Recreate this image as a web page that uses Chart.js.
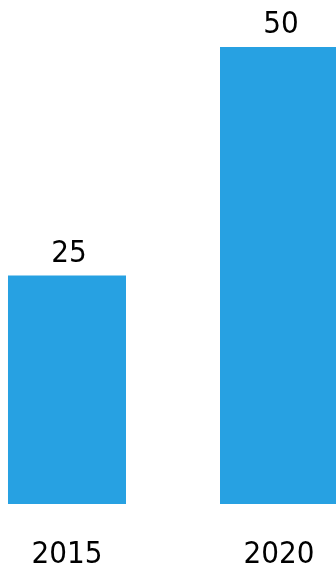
<!DOCTYPE html>
<html>
<head>
<meta charset="utf-8">
<script src="https://cdn.jsdelivr.net/npm/chart.js@4/dist/chart.umd.min.js"></script>
<style>
html,body{margin:0;padding:0;background:#fff;}
#wrap{width:336px;height:569px;position:relative;}
</style>
</head>
<body>
<div id="wrap"><canvas id="c" width="336" height="569"></canvas></div>
<script>
const categories = ["2015", "2020"];
const values = [25, 50];
const tickLabels = ["2015", "2020"];

const FONT = '"DejaVu Sans Condensed", "DejaVu Sans", sans-serif';

const valueLabels = {
  id: 'valueLabels',
  afterDatasetsDraw(chart) {
    const ctx = chart.ctx;
    const meta = chart.getDatasetMeta(0);
    ctx.save();
    ctx.font = '31px ' + FONT;
    ctx.fillStyle = '#000';
    ctx.textAlign = 'center';
    ctx.textBaseline = 'alphabetic';
    meta.data.forEach((bar, i) => {
      ctx.fillText(String(values[i]), bar.x + 2, bar.y - 14);
    });
    ctx.restore();
  }
};

new Chart(document.getElementById('c'), {
  type: 'bar',
  data: {
    datasets: [{
      data: categories.map((c, i) => ({ x: Number(c), y: values[i] })),
      backgroundColor: '#27A1E2',
      borderWidth: 0,
      categoryPercentage: 1,
      barPercentage: 0.5566
    }]
  },
  options: {
    responsive: false,
    animation: false,
    devicePixelRatio: 1,
    layout: { padding: { left: 0, right: 0, top: 47, bottom: 0 } },
    plugins: { legend: { display: false }, tooltip: { enabled: false } },
    scales: {
      x: {
        type: 'linear',
        offset: false,
        min: 2013.42,
        max: 2021.344,
        afterBuildTicks(scale) {
          scale.ticks = tickLabels.map(t => ({ value: Number(t) }));
        },
        afterFit(scale) {
          scale.height = 65;
          scale.paddingLeft = 0;
          scale.paddingRight = 0;
        },
        grid: { display: false, drawTicks: false, offset: false },
        border: { display: false },
        ticks: {
          color: '#000',
          font: { family: FONT, size: 31 },
          padding: 32,
          maxRotation: 0,
          autoSkip: false,
          callback: (v) => String(v)
        }
      },
      y: {
        display: false,
        min: 0,
        max: 50
      }
    }
  },
  plugins: [valueLabels]
});
</script>
</body>
</html>
